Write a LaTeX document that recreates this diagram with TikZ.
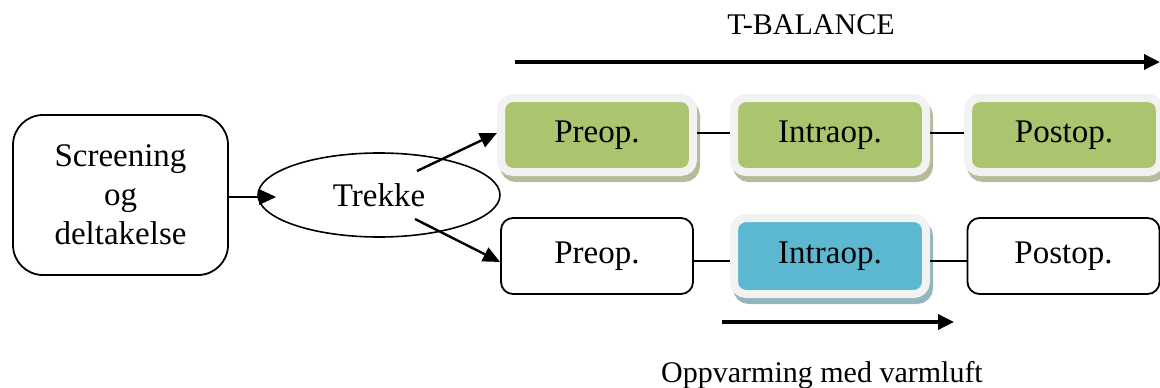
\documentclass[tikz,border=0pt]{standalone}
\usepackage{fontspec}
\setmainfont{Liberation Serif}
\usetikzlibrary{arrows.meta,shapes.geometric}
\definecolor{phasegreen}{RGB}{171,196,110}
\definecolor{phaseblue}{RGB}{91,184,208}
\definecolor{greenshade}{RGB}{180,188,155}
\definecolor{blueshade}{RGB}{147,181,190}
\definecolor{framegray}{RGB}{242,242,242}
\tikzset{
  lbl/.style={font=\fontsize{33}{39}\selectfont},
  caption/.style={font=\fontsize{30}{36}\selectfont},
  plainbox/.style={lbl, draw, line width=1.8pt, rounded corners=12pt,
    minimum width=192pt, minimum height=76pt, inner sep=0pt},
  phasebox/.style 2 args={lbl, fill=#1, draw=framegray, line width=8pt,
    rounded corners=12pt, minimum width=192pt, minimum height=74pt, inner sep=0pt,
    preaction={fill=#2, draw=#2, line width=8pt,
      transform canvas={xshift=3pt, yshift=-6pt}}},
  conn/.style={line width=1.8pt},
  arr/.style={line width=2.4pt, -{Triangle[length=17pt,width=15pt]}},
  bigarr/.style={line width=3.5pt, -{Triangle[length=16pt,width=15pt]}},
}
\begin{document}
\begin{tikzpicture}[x=1pt,y=-1pt]
\useasboundingbox (0,0) rectangle (1160,388);

% headline and time arrow
\node[caption] (title) at (811,25) {T-BALANCE};
\coordinate (tstart) at (515,62);
\coordinate (tend) at (1160,62);
\draw[bigarr] (tstart) -- (tend);

% entry
\node[lbl, draw, line width=1.8pt, rounded corners=30pt, align=center,
  minimum width=215pt, minimum height=160pt, inner sep=0pt] (scr) at (120.5,195)
  {Screening\\og\\deltakelse};
\node[lbl, ellipse, draw, line width=1.6pt, minimum width=242pt, minimum height=84pt,
  inner sep=0pt] (trk) at (379,195) {Trekke};
\draw[arr] ([yshift=-2pt]scr.east) -- ([xshift=19pt,yshift=-2pt]trk.west);

% T-balance arm
\node[phasebox={phasegreen}{greenshade}] (pre1) at (597,135) {Preop.};
\node[phasebox={phasegreen}{greenshade}] (int1) at (830,135) {Intraop.};
\node[phasebox={phasegreen}{greenshade}] (post1) at (1064,135) {Postop.};
\draw[conn] ([yshift=2pt]pre1.east) -- ([yshift=2pt]int1.west);
\draw[conn] ([yshift=2pt]int1.east) -- ([yshift=2pt]post1.west);

% warming arm
\node[plainbox] (pre2) at (597,256) {Preop.};
\node[phasebox={phaseblue}{blueshade}, minimum height=76pt] (int2) at (830,256) {Intraop.};
\node[plainbox] (post2) at (1063.5,256) {Postop.};
\draw[conn] ([yshift=-5pt]pre2.east) -- ([yshift=-5pt]int2.west);
\draw[conn] ([yshift=-5pt]int2.east) -- ([yshift=-5pt]post2.west);

% randomisation arrows
\coordinate (up) at (417,171);
\coordinate (down) at (415,219);
\draw[arr] (up) -- ([yshift=2pt]pre1.west);
\draw[arr] (down) -- ([yshift=-6pt]pre2.west);

% warming arrow
\coordinate (wstart) at (722,322);
\coordinate (wend) at (954,322);
\draw[bigarr] (wstart) -- (wend);
\node[caption] (warm) at (822,375) {Oppvarming med varmluft};
\end{tikzpicture}
\end{document}
